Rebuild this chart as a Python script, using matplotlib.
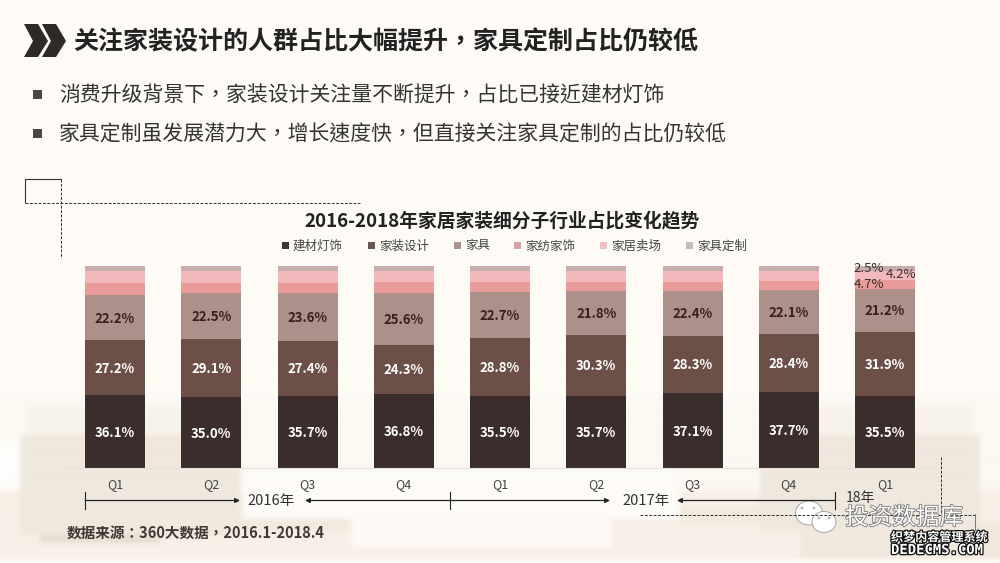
import numpy as np
import matplotlib
matplotlib.use('Agg')
import matplotlib.pyplot as plt
from matplotlib.patches import Rectangle, Polygon, Ellipse
import matplotlib.patheffects as pe

plt.rcParams['font.family'] = ['Noto Sans CJK SC', 'DejaVu Sans']
# the TC cut centres the full width comma and colon like the slide does
CENTERED_PUNCT = ['Noto Sans CJK TC', 'DejaVu Sans']

quarters = ['Q1', 'Q2', 'Q3', 'Q4', 'Q1', 'Q2', 'Q3', 'Q4', 'Q1']
names = ['建材灯饰', '家装设计', '家具', '家纺家饰', '家居卖场', '家具定制']
jiancai = [36.1, 35.0, 35.7, 36.8, 35.5, 35.7, 37.1, 37.7, 35.5]
sheji = [27.2, 29.1, 27.4, 24.3, 28.8, 30.3, 28.3, 28.4, 31.9]
jiaju = [22.2, 22.5, 23.6, 25.6, 22.7, 21.8, 22.4, 22.1, 21.2]
jiafang = [6.0, 5.1, 5.0, 5.5, 5.1, 4.5, 4.5, 4.4, 4.7]
maichang = [6.0, 5.8, 5.8, 5.3, 5.2, 5.0, 5.0, 5.0, 4.2]
dingzhi = [2.5, 2.5, 2.5, 2.5, 2.7, 2.7, 2.7, 2.4, 2.5]
series = [jiancai, sheji, jiaju, jiafang, maichang, dingzhi]
colors = ['#3a2d2b', '#6c5048', '#ae908a', '#e89b98', '#f2b9bc', '#c8aeaa']
legend_colors = ['#3f3533', '#6a5650', '#a8938f', '#d8a0a3', '#eec0c4', '#c4bcb8']

title = '关注家装设计的人群占比大幅提升，家具定制占比仍较低'
bullets = ['消费升级背景下，家装设计关注量不断提升，占比已接近建材灯饰',
           '家具定制虽发展潜力大，增长速度快，但直接关注家具定制的占比仍较低']
chart_title = '2016-2018年家居家装细分子行业占比变化趋势'
source = '数据来源：360大数据，2016.1-2018.4'


def fill_bg(img, x0, x1, y0, y1, color):
    # img is at quarter resolution
    img[y0 // 4:y1 // 4, x0 // 4:x1 // 4] = matplotlib.colors.to_rgb(color)


fig = plt.figure(figsize=(10, 5.63), dpi=100, facecolor='#fefbf6')

# page layer in pixel coordinates
page = fig.add_axes([0, 0, 1, 1])

# soft background photo: floor, sofas, table. bicubic upscaling blurs the edges
bg = np.ones((141, 250, 3)) * np.array(matplotlib.colors.to_rgb('#fefbf6'))
fill_bg(bg, 0, 1000, 400, 492, '#fcf8f2')
fill_bg(bg, 0, 1000, 492, 563, '#f8f0e7')
fill_bg(bg, 0, 20, 440, 490, '#fefdfb')
fill_bg(bg, 800, 1000, 525, 563, '#f2e9de')
fill_bg(bg, 245, 680, 468, 520, '#fdfbf7')
fill_bg(bg, 354, 612, 520, 548, '#fdf9f4')
fill_bg(bg, 30, 240, 410, 438, '#f8f3ea')
fill_bg(bg, 768, 975, 410, 438, '#f8f3ea')
fill_bg(bg, 20, 242, 438, 536, '#efe8dd')
fill_bg(bg, 40, 160, 536, 546, '#e8ded3')
fill_bg(bg, 160, 350, 520, 535, '#f2e9df')
fill_bg(bg, 680, 760, 510, 526, '#f3eade')
fill_bg(bg, 760, 982, 438, 532, '#efe8dd')
page.imshow(bg, extent=(0, 1000, 563, 0), interpolation='bicubic', aspect='auto', zorder=0)
page.set_xlim(0, 1000)
page.set_ylim(563, 0)
page.axis('off')

# header chevrons
for dx in [0, 18]:
    page.add_patch(Polygon([(24 + dx, 24), (38 + dx, 24), (48 + dx, 41), (38 + dx, 57),
                            (24 + dx, 57), (33 + dx, 41)], color='#2d2a28', lw=0))
page.text(73, 42.5, title, fontsize=18, fontweight='bold', color='#222222', va='center', family=CENTERED_PUNCT)

for y, txt in zip([94, 133], bullets):
    page.add_patch(Rectangle((33, y - 4.5), 9, 9, color='#4a4745', lw=0))
    page.text(59, y + 1.5, txt, fontsize=15, color='#333333', va='center', family=CENTERED_PUNCT)

# dashed frame pieces
dash = (0, (3, 1.5))
page.plot([24.5, 24.5, 60.5], [202, 178.5, 178.5], color='#333333', lw=0.8)
page.plot([24.5, 360], [202.5, 202.5], color='#333333', lw=0.7, ls=dash)
page.plot([60.5, 60.5], [178.5, 258], color='#333333', lw=0.7, ls=dash)
page.plot([640, 975], [514.5, 514.5], color='#333333', lw=0.7, ls=dash)
page.plot([941, 941], [457, 514], color='#333333', lw=0.7, ls=dash)
page.plot([975, 975], [514, 530], color='#777777', lw=0.7)

page.text(502, 221, chart_title, fontsize=13.5, fontweight='bold', color='#222222', ha='center', va='center')

# legend, hand placed because each entry sits at its own spacing
legend_x = [282, 368, 454, 514, 600, 686]
for x, name, c in zip(legend_x, names, legend_colors):
    page.add_patch(Rectangle((x, 242), 7, 7, color=c, lw=0))
    page.text(x + 11, 246, name, fontsize=9, color='#444444', va='center')

# year arrows
ay = 500.5
for x0, x1 in [(85, 240), (450, 610)]:
    page.annotate('', xy=(x1, ay), xytext=(x0, ay), arrowprops=dict(arrowstyle='-|>', color='#222222', lw=0.9, shrinkA=0, shrinkB=0, mutation_scale=7))
for x0, x1 in [(305, 450), (677, 835)]:
    page.annotate('', xy=(x0, ay), xytext=(x1, ay), arrowprops=dict(arrowstyle='-|>', color='#222222', lw=0.9, shrinkA=0, shrinkB=0, mutation_scale=7))
for x in [85, 450, 835]:
    page.plot([x, x], [492, 509], color='#222222', lw=0.8)
page.text(271, 501.5, '2016年', fontsize=10.5, color='#333333', ha='center', va='center')
page.text(646, 500.5, '2017年', fontsize=10.5, color='#333333', ha='center', va='center')
page.text(860, 498, '18年', fontsize=10, color='#333333', ha='center', va='center')

page.text(67, 533, source, fontsize=10.5, fontweight='bold', color='#3e3836', va='center', family=CENTERED_PUNCT)

# watermark
for cx, cy, w, h in [(809, 513, 27, 24), (824, 522, 24, 21)]:
    page.add_patch(Ellipse((cx, cy), w, h, fc='white', ec='#999999', lw=0.6))
for px, py in [(802, 508), (814, 508), (819, 518), (829, 518)]:
    page.add_patch(Ellipse((px, py), 2.5, 2.5, fc='#aaaaaa', lw=0))
outline = [pe.withStroke(linewidth=1.2, foreground='#777777')]
page.text(845, 518, '投资数据库', fontsize=17, color='white', va='center', path_effects=outline)
black_edge = [pe.withStroke(linewidth=1.8, foreground='#111111')]
page.text(891, 537.5, '织梦内容管理系统', fontsize=8.7, color='white', fontweight='bold', va='center', path_effects=black_edge)
page.text(891, 550, 'DEDECMS.COM', fontsize=10, family='DejaVu Sans Mono', color='white', fontweight='bold', va='center', path_effects=black_edge)

# bars, axes mapped so the first bar is centred on x=115px and 0-100 spans y=468..266px
ax = fig.add_axes([66.875 / 1000, (563 - 468) / 563, 866.25 / 1000, 202 / 563])
ax.patch.set_alpha(0)
x = np.arange(len(quarters))
bottom = np.zeros(len(quarters))
for vals, name, c in zip(series, names, colors):
    ax.bar(x, vals, width=60 / 96.25, bottom=bottom, color=c, label=name, lw=0)
    bottom += np.array(vals)
ax.set_xlim(-0.5, 8.5)
ax.set_ylim(0, 100)
ax.set_yticks([])
ax.set_xticks(x)
ax.set_xticklabels(quarters, fontsize=9, color='#444444')
ax.tick_params(axis='x', length=0, pad=7)
for s in ['top', 'left', 'right']:
    ax.spines[s].set_visible(False)
ax.spines['bottom'].set_color('#e6dfd6')
ax.spines['bottom'].set_linewidth(0.8)

label_colors = ['white', 'white', '#3a1f1c']
base = np.zeros(len(quarters))
for vals, c in zip(series[:3], label_colors):
    for i, v in enumerate(vals):
        ax.text(i, base[i] + v / 2 - 0.5, f'{v:.1f}%', color=c, fontsize=9.5, fontweight='bold', ha='center', va='center')
    base += np.array(vals)

# last bar has its thin segments labelled off to the sides
ax.text(7.83, 98.6, f'{dingzhi[8]}%', fontsize=9.5, color='#3a2d2b', ha='center', va='center')
ax.text(8.17, 95.8, f'{maichang[8]}%', fontsize=9.5, color='#3a2d2b', ha='center', va='center')
ax.text(7.83, 91, f'{jiafang[8]}%', fontsize=9.5, color='#3a2d2b', ha='center', va='center')

fig.savefig('out.png', dpi=100, facecolor=fig.get_facecolor())
